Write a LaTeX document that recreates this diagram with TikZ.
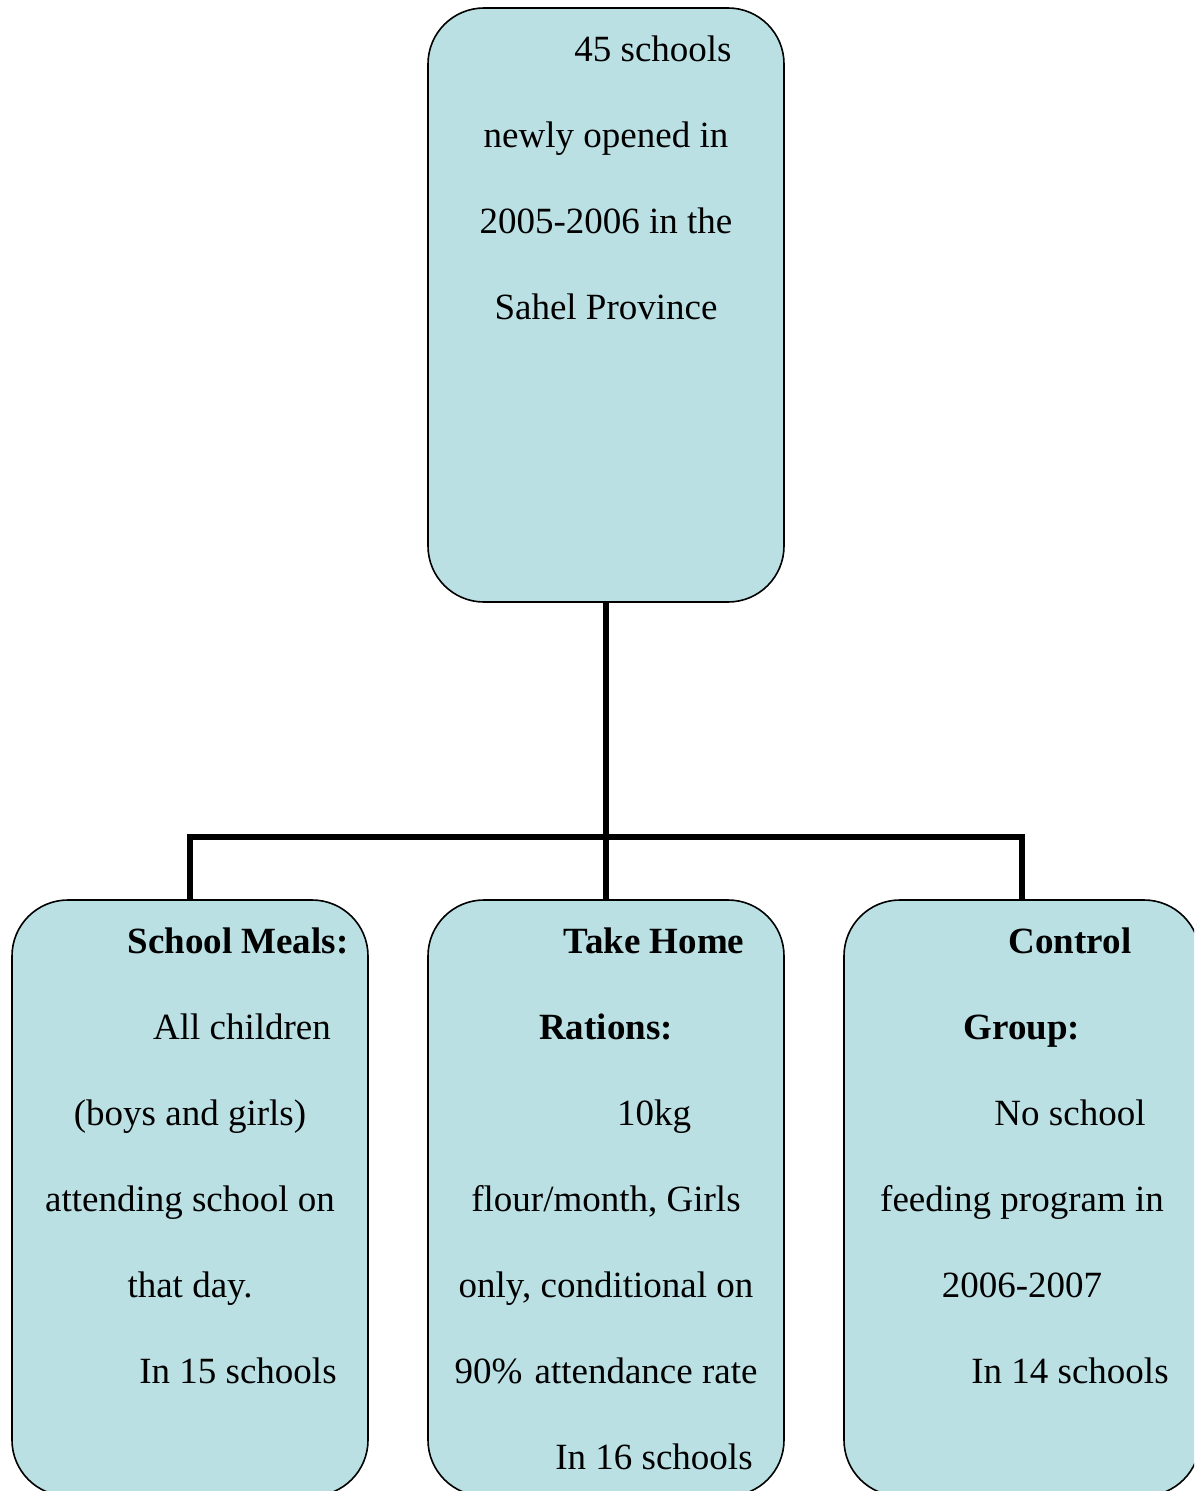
\documentclass[tikz,border=0pt]{standalone}
\usepackage{fontspec}
\setmainfont{Liberation Serif}
\definecolor{boxfill}{RGB}{186,224,228}
\begin{document}
\begin{tikzpicture}[x=1pt,y=-1pt,
  box/.style={draw=black,line width=1.6pt,fill=boxfill,rounded corners=56pt,
    minimum width=356pt,inner sep=0pt,outer sep=0pt},
  conn/.style={draw=black,line width=5.5pt},
  txt/.style={anchor=base,inner sep=0pt,font=\fontsize{37}{44}\selectfont},
  btxt/.style={txt,font=\fontsize{37}{44}\selectfont\bfseries}]
\clip (0,0) rectangle (1194,1491);
\fill[white] (0,0) rectangle (1194,1491);
% boxes
\node[box,minimum height=594pt] (top) at (606,305) {};
\node[box,minimum height=596pt] (left) at (190,1198) {};
\node[box,minimum height=596pt] (mid) at (606,1198) {};
\node[box,minimum height=596pt] (right) at (1022,1198) {};
% connectors
\coordinate (j) at (606,837);
\draw[conn] (top.south) -- (mid.north);
\draw[conn] (left.north) |- (j) -| (right.north);
% top text
\node[txt] (t1) at (653,61) {45 schools};
\node[txt] (t2) at (606,147) {newly opened in};
\node[txt] (t3) at (606,233) {2005-2006 in the};
\node[txt] (t4) at (606,319) {Sahel Province};
% left text
\node[btxt] (l1) at (238,953) {School Meals:};
\node[txt] (l2) at (242,1039) {All children};
\node[txt] (l3) at (190,1125) {(boys and girls)};
\node[txt] (l4) at (190,1211) {attending school on};
\node[txt] (l5) at (190,1297) {that day.};
\node[txt] (l6) at (238,1383) {In 15 schools};
% middle text
\node[btxt] (m1) at (654,953) {Take Home};
\node[btxt] (m2) at (606,1039) {Rations:};
\node[txt] (m3) at (654,1125) {10kg};
\node[txt] (m4) at (606,1211) {flour/month, Girls};
\node[txt] (m5) at (606,1297) {only, conditional on};
\node[txt] (m6) at (606,1383) {90\%\hspace{3pt} attendance rate};
\node[txt] (m7) at (654,1469) {In 16 schools};
% right text
\node[btxt] (r1) at (1070,953) {Control};
\node[btxt] (r2) at (1022,1039) {Group:};
\node[txt] (r3) at (1070,1125) {No school};
\node[txt] (r4) at (1022,1211) {feeding program in};
\node[txt] (r5) at (1022,1297) {2006-2007};
\node[txt] (r6) at (1070,1383) {In 14 schools};
\end{tikzpicture}
\end{document}
